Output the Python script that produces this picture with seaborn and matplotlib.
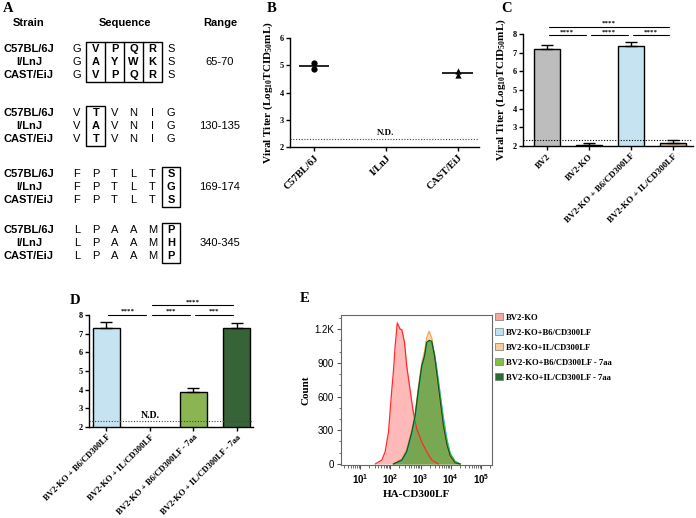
import numpy as np
import pandas as pd
import matplotlib
matplotlib.use("Agg")
import matplotlib.pyplot as plt
import seaborn as sns
from matplotlib.patches import Rectangle, Patch
from matplotlib.ticker import MultipleLocator, LogLocator, NullFormatter

# ---- panel A: sequence alignment ----
strains = ["C57BL/6J", "I/LnJ", "CAST/EiJ"]
seq_65_70 = ["GVPQRS", "GAYWKS", "GVPQRS"]
seq_130_135 = ["VTVNIG", "VAVNIG", "VTVNIG"]
seq_169_174 = ["FPTLTS", "FPTLTG", "FPTLTS"]
seq_340_345 = ["LPAAMP", "LPAAMH", "LPAAMP"]
ranges = ["65-70", "130-135", "169-174", "340-345"]
boxed_cols = [[1, 2, 3, 4], [1], [5], [5]]

# ---- panel B: viral titer per strain ----
b_strains = ["C57BL/6J", "I/LnJ", "CAST/EiJ"]
b_c57 = [5.1, 4.88]
b_cast = [4.8, 4.66]
nd_limit = 2.3

# ---- panel C ----
c_groups = ["BV2", "BV2-KO", "BV2-KO + B6/CD300LF", "BV2-KO + IL/CD300LF"]
c_titer = [7.22, 2.05, 7.35, 2.15]
c_err = [0.2, 0.1, 0.22, 0.17]
c_colors = ["#bdbdbd", "#ffffff", "#bfe5f9", "#c9a87e"]
c_sig = [(0, 1, "****"), (1, 2, "****"), (2, 3, "****"), (0, 3, "****")]

# ---- panel D ----
d_groups = ["BV2-KO + B6/CD300LF", "BV2-KO + IL/CD300LF",
            "BV2-KO + B6/CD300LF - 7aa", "BV2-KO + IL/CD300LF - 7aa"]
d_titer = [7.33, np.nan, 3.85, 7.3]
d_err = [0.3, np.nan, 0.22, 0.25]
d_colors = ["#bfe5f9", "#ffffff", "#8cc63f", "#2f6a31"]
d_sig = [(0, 1, "****"), (1, 2, "***"), (2, 3, "***"), (1, 3, "****")]

# ---- panel E: flow histograms (log10 intensity, count) ----
ko_log = [1.50, 1.72, 1.83, 1.94, 2.05, 2.10, 2.16, 2.23, 2.32, 2.38,
          2.47, 2.54, 2.65, 2.76, 2.87, 3.04, 3.20, 3.37, 3.59]
ko_count = [0, 35, 110, 285, 665, 815, 1050, 1255, 1200, 1195,
            1080, 875, 665, 460, 315, 195, 110, 35, 0]
pos_log = [2.10, 2.38, 2.54, 2.71, 2.82, 2.93, 3.04, 3.13, 3.20, 3.28,
           3.37, 3.46, 3.53, 3.64, 3.75, 3.87, 3.98, 4.14, 4.31]
b6_count = [0, 25, 90, 250, 400, 630, 850, 950, 1060, 1080,
            1070, 980, 860, 640, 420, 220, 90, 20, 0]
il_count = [0, 45, 130, 300, 450, 690, 900, 1000, 1120, 1180,
            1120, 950, 790, 560, 330, 160, 60, 8, 0]
b6_7aa_count = [0, 30, 100, 270, 420, 650, 860, 955, 1065, 1090,
                1080, 970, 840, 620, 390, 200, 95, 25, 0]
il_7aa_count = [0, 35, 110, 285, 430, 665, 875, 960, 1080, 1100,
                1090, 960, 815, 580, 345, 170, 70, 10, 0]
e_labels = ["BV2-KO", "BV2-KO+B6/CD300LF", "BV2-KO+IL/CD300LF",
            "BV2-KO+B6/CD300LF - 7aa", "BV2-KO+IL/CD300LF - 7aa"]
e_fill = ["#ff9c9c", "#a9dcf5", "#f9c28c", "#7dc242", "#3d7a2e"]
e_alpha = [0.7, 0.6, 0.6, 0.65, 0.4]
e_edge = ["#ff2a2a", "#22b4ee", "#f5a24a", "#33cc33", "#1f4f1f"]
e_legend = ["#f7a89c", "#b8e2f7", "#fbcb9a", "#7dc242", "#2e6b30"]

sns.set_theme(style="ticks", rc={
    "axes.edgecolor": "black", "text.color": "black", "axes.labelcolor": "black",
    "xtick.color": "black", "ytick.color": "black", "axes.linewidth": 1,
})
plt.rcParams["font.family"] = ["Liberation Serif", "DejaVu Serif"]
plt.rcParams["font.weight"] = "bold"
plt.rcParams["axes.labelweight"] = "bold"
plt.rcParams["mathtext.fontset"] = "custom"
plt.rcParams["mathtext.rm"] = "Liberation Sans"
plt.rcParams["mathtext.bf"] = "Liberation Serif:bold"

SANS = ["Liberation Sans", "DejaVu Sans"]
W, H = 696, 518

fig = plt.figure(figsize=(6.96, 5.18), dpi=100)

# overlay in pixel coordinates for panel A and panel letters
ov = fig.add_axes([0, 0, 1, 1])
ov.set_xlim(0, W)
ov.set_ylim(H, 0)
ov.axis("off")

for lab, (px, py) in zip("ABCDE", [(8, 8), (272, 8), (507, 8), (75, 300), (305, 299)]):
    ov.text(px, py, lab, fontsize=10.5, fontweight="bold", ha="center", va="center")

ov.text(29, 23, "Strain", fontsize=8, fontweight="bold", family=SANS, ha="center", va="center")
ov.text(125, 23, "Sequence", fontsize=8, fontweight="bold", family=SANS, ha="center", va="center")
ov.text(220, 23, "Range", fontsize=8, fontweight="bold", family=SANS, ha="center", va="center")

blocks = [seq_65_70, seq_130_135, seq_169_174, seq_340_345]
group_mid = [62, 126, 187, 243]
row_gap = 12.7
col_x = [77 + 18.8 * c for c in range(6)]
for seqs, rng, boxed, ym in zip(blocks, ranges, boxed_cols, group_mid):
    for r, (strain, seq) in enumerate(zip(strains, seqs)):
        y = ym + (r - 1) * row_gap
        ov.text(29, y, strain, fontsize=8, fontweight="bold", family=SANS, ha="center", va="center")
        for c, ch in enumerate(seq):
            ov.text(col_x[c], y, ch, fontsize=8, family=SANS, ha="center", va="center",
                    fontweight="bold" if c in boxed else "normal")
    ov.text(220, ym, rng, fontsize=8, fontweight="normal", family=SANS, ha="center", va="center")
    x0 = col_x[boxed[0]] - 9.4
    x1 = col_x[boxed[-1]] + 9.4
    ov.add_patch(Rectangle((x0, ym - 20), x1 - x0, 40, fill=False, lw=1, ec="black"))
    for c in boxed[1:]:
        ov.plot([col_x[c] - 9.4] * 2, [ym - 20, ym + 20], color="black", lw=1)


def style_axis(ax, ylo, yhi):
    sns.despine(ax=ax)
    ax.set_ylim(ylo, yhi)
    ax.set_yticks(range(ylo, yhi + 1))
    ax.tick_params(axis="both", direction="out", length=3, width=1, pad=1.5)
    ax.tick_params(axis="y", labelsize=6)
    for t in ax.get_yticklabels():
        t.set_fontweight("bold")


def sig_bars(ax, pairs, low, high):
    for a, b, label in pairs:
        y = high if b - a > 1 else low
        ax.plot([a + 0.04, b - 0.08], [y, y], color="black", lw=0.8, clip_on=False)
        ax.text((a + b) / 2 - 0.02, y + 0.05, label, fontsize=5, ha="center", va="bottom")


def rotate_labels(ax, size):
    for t in ax.get_xticklabels():
        t.set_rotation(45)
        t.set_ha("right")
        t.set_rotation_mode("anchor")
        t.set_fontsize(size)
        t.set_fontweight("bold")


ylab = r"Viral Titer (Log$_{\mathbf{10}}$TCID$_{\mathbf{50}}$mL)"

# ---- B ----
ax_b = fig.add_axes([290 / W, 1 - 147 / H, 189 / W, 109 / H])
df_b = pd.DataFrame({"strain": ["C57BL/6J"] * len(b_c57) + ["CAST/EiJ"] * len(b_cast),
                     "titer": b_c57 + b_cast})
sns.stripplot(data=df_b[df_b.strain == "C57BL/6J"], x="strain", y="titer", order=b_strains,
              jitter=False, marker="o", color="black", size=4.5, ax=ax_b)
sns.stripplot(data=df_b[df_b.strain == "CAST/EiJ"], x="strain", y="titer", order=b_strains,
              jitter=False, marker="^", color="black", size=4.5, ax=ax_b)
for i, s in enumerate(b_strains):
    vals = df_b.loc[df_b.strain == s, "titer"]
    if len(vals):
        ax_b.hlines(vals.mean(), i - 0.21, i + 0.21, color="black", lw=1.2)
ax_b.axhline(nd_limit, ls=(0, (1, 1.5)), color="#444444", lw=0.8)
ax_b.text(1, nd_limit + 0.08, "N.D.", fontsize=6.5, ha="center", va="bottom")
style_axis(ax_b, 2, 6)
ax_b.set_xlim(-0.34, 2.3)
ax_b.set_xlabel("")
ax_b.set_ylabel(ylab, fontsize=8, labelpad=3)
rotate_labels(ax_b, 7.5)

# ---- C ----
ax_c = fig.add_axes([523 / W, 1 - 146 / H, 170 / W, 112 / H])
sns.barplot(x=c_groups, y=c_titer, hue=c_groups, order=c_groups, hue_order=c_groups,
            palette=c_colors, legend=False, width=0.62, edgecolor="black", linewidth=1,
            errorbar=None, ax=ax_c)
ax_c.errorbar(range(len(c_groups)), c_titer, yerr=[np.zeros(len(c_err)), c_err], fmt="none",
              ecolor="black", elinewidth=1, capsize=4.5, capthick=1)
ax_c.axhline(nd_limit, ls=(0, (1, 1.5)), color="black", lw=0.8)
style_axis(ax_c, 2, 8)
ax_c.set_xlim(-0.57, 3.48)
ax_c.set_ylabel(ylab, fontsize=8, labelpad=3)
sig_bars(ax_c, c_sig, 7.92, 8.4)
rotate_labels(ax_c, 6.5)

# ---- D ----
ax_d = fig.add_axes([89 / W, 1 - 427 / H, 164 / W, 112 / H])
sns.barplot(x=d_groups, y=d_titer, hue=d_groups, order=d_groups, hue_order=d_groups,
            palette=d_colors, legend=False, width=0.62, edgecolor="black", linewidth=1,
            errorbar=None, ax=ax_d)
ok = [i for i, v in enumerate(d_titer) if not np.isnan(v)]
ax_d.errorbar(ok, [d_titer[i] for i in ok], yerr=[np.zeros(len(ok)), [d_err[i] for i in ok]],
              fmt="none", ecolor="black", elinewidth=1, capsize=4.5, capthick=1)
ax_d.axhline(nd_limit, ls=(0, (1, 1.5)), color="#444444", lw=0.8)
ax_d.text(1, nd_limit + 0.08, "N.D.", fontsize=7, ha="center", va="bottom")
style_axis(ax_d, 2, 8)
ax_d.set_xlim(-0.4, 3.37)
ax_d.set_ylabel("")
sig_bars(ax_d, d_sig, 8.0, 8.53)
rotate_labels(ax_d, 6.2)

# ---- E ----
ax_e = fig.add_axes([341 / W, 1 - 465 / H, 151 / W, 150 / H])
curves = [(ko_log, ko_count), (pos_log, b6_count), (pos_log, il_count),
          (pos_log, b6_7aa_count), (pos_log, il_7aa_count)]
for (lg, cnt), fc, ec, al in zip(curves, e_fill, e_edge, e_alpha):
    xv = 10 ** np.array(lg)
    ax_e.fill_between(xv, cnt, color=fc, alpha=al, lw=0)
    sns.lineplot(x=xv, y=cnt, color=ec, lw=0.9, sort=False, ax=ax_e)
ax_e.set_xscale("log")
ax_e.set_xlim(10 ** 0.37, 10 ** 5.36)
ax_e.set_ylim(-9, 1325)
ax_e.set_xticks([10, 100, 1000, 10000, 100000])
ax_e.set_xticklabels([r"$10^{1}$", r"$10^{2}$", r"$10^{3}$", r"$10^{4}$", r"$10^{5}$"])
ax_e.xaxis.set_minor_locator(LogLocator(base=10, subs=np.arange(2, 10)))
ax_e.xaxis.set_minor_formatter(NullFormatter())
ax_e.set_yticks([0, 300, 600, 900, 1200])
ax_e.set_yticklabels(["0", "300", "600", "900", "1.2K"])
ax_e.yaxis.set_minor_locator(MultipleLocator(100))
ax_e.tick_params(axis="both", which="major", direction="out", length=3, width=0.8,
                 labelsize=7, pad=2, color="#555555")
ax_e.tick_params(axis="both", which="minor", direction="out", length=1.8, width=0.6, color="#555555")
for t in ax_e.get_xticklabels() + ax_e.get_yticklabels():
    t.set_fontfamily(SANS)
    t.set_fontweight("normal")
for sp in ax_e.spines.values():
    sp.set_color("#666666")
    sp.set_linewidth(0.8)
ax_e.set_xlabel("HA-CD300LF", fontsize=8, labelpad=3)
ax_e.set_ylabel("Count", fontsize=8, labelpad=3)
handles = [Patch(facecolor=c, edgecolor="#777777", lw=0.5, label=l) for c, l in zip(e_legend, e_labels)]
ax_e.legend(handles=handles, loc="upper left", bbox_to_anchor=(495 / W, 1 - 313 / H),
            bbox_transform=fig.transFigure, frameon=False, fontsize=6.2, handlelength=0.9,
            handleheight=0.9, handletextpad=0.4, labelspacing=0.75, borderpad=0, borderaxespad=0)

fig.savefig("out.png", dpi=100)
